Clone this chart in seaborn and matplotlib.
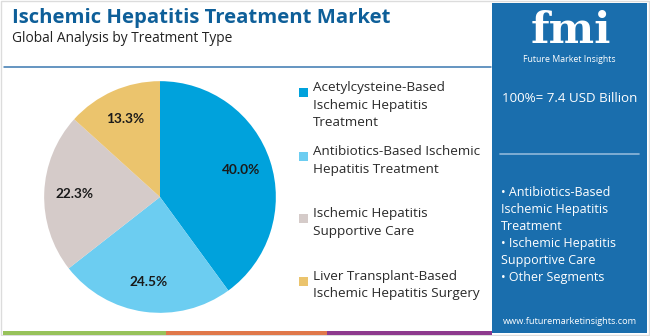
import matplotlib
matplotlib.use("Agg")
import matplotlib.pyplot as plt
import seaborn as sns
from matplotlib.patches import Rectangle
from matplotlib.lines import Line2D

# Market share by treatment type (value 100% = 7.4 USD Billion)
segments = [
    "Acetylcysteine-Based\nIschemic Hepatitis\nTreatment",
    "Antibiotics-Based Ischemic\nHepatitis Treatment",
    "Ischemic Hepatitis\nSupportive Care",
    "Liver Transplant-Based\nIschemic Hepatitis Surgery",
]
shares = [40.0, 24.5, 22.3, 13.3]
colors = ["#00a2dc", "#6ccdf1", "#d5cbc9", "#ebc46d"]

title = "Ischemic Hepatitis Treatment Market"
subtitle = "Global Analysis by Treatment Type"
total_text = "100%= 7.4 USD Billion"
key_segments = [
    "• Antibiotics-Based\nIschemic Hepatitis\nTreatment",
    "• Ischemic Hepatitis\nSupportive Care",
    "• Other Segments",
]
site = "www.futuremarketinsights.com"

sns.set_theme(style="white")
plt.rcParams["font.family"] = ["Open Sans", "DejaVu Sans"]

W, H = 650, 336
fig = plt.figure(figsize=(W / 100, H / 100), dpi=100)
fig.patch.set_facecolor("white")


def fx(x):
    return x / W


def fy(y):
    return 1 - y / H


def rect(x0, y0, x1, y1, color, **kw):
    fig.patches.append(Rectangle((fx(x0), fy(y1)), fx(x1 - x0), (y1 - y0) / H,
                                 transform=fig.transFigure, facecolor=color,
                                 edgecolor="none", **kw))


def hline(x0, x1, y, color, lw):
    fig.lines.append(Line2D([fx(x0), fx(x1)], [fy(y), fy(y)],
                            transform=fig.transFigure, color=color, lw=lw))


# outer frame
fig.patches.append(Rectangle((0.001, 0.002), 0.997, 0.995, transform=fig.transFigure,
                             facecolor="none", edgecolor="#dcdcdc", lw=1.0))

# headings
fig.text(fx(12), fy(18), title, fontsize=14.6, fontweight="bold", color="#0e5f99",
         family=["Open Sans", "DejaVu Sans"], va="center", ha="left")
fig.text(fx(12), fy(39), subtitle, fontsize=9.9, color="#222222", va="center", ha="left")
hline(4, 491, 67, "#3a78b0", 1.1)

# bottom colour band
rect(3, 331, 166, 335, "#97c25a")
rect(166, 331, 327, 335, "#e0784a")
rect(327, 331, 492, 335, "#8e3a8e")

# pie
ax = fig.add_axes([fx(43), fy(314), fx(234), 234 / H])
wedges, texts, autotexts = ax.pie(
    shares, colors=colors, startangle=90, counterclock=False,
    autopct="%.1f%%", pctdistance=0.74, radius=1.0,
    wedgeprops=dict(linewidth=0),
    textprops=dict(fontsize=9.8, fontweight="bold", color="#1a1a1a",
                   family=["Lato", "DejaVu Sans"]),
)
ax.set_xlim(-1.01, 1.01)
ax.set_ylim(-1.01, 1.01)
ax.set_aspect("equal")
ax.axis("off")

# legend
legend_rows = [81, 145, 207, 270]
for seg, col, y in zip(segments, colors, legend_rows):
    rect(299, y + 7, 308, y + 16, col)
    fig.text(fx(313), fy(y), seg, fontsize=9.7, color="#2a2a2a", va="top", ha="left",
             linespacing=1.45)

# side panel
panel = "#1a6ead"
rect(492, 3, 647, 333, panel)

# logo
fig.text(fx(571), fy(31), "fmi", fontsize=31, fontweight="bold", color="white",
         family=["DejaVu Serif"], ha="center", va="center")
for yy in range(15, 52, 3):
    hline(515, 630, yy, panel, 0.6)
fig.text(fx(569), fy(59), "Future Market Insights", fontsize=6.3, color="white",
         ha="center", va="center")

fig.text(fx(502), fy(98), total_text, fontsize=9.6, color="white", ha="left", va="center")
hline(500, 639, 154, "#8fb8da", 1.2)
fig.text(fx(501), fy(186), "\n".join(key_segments), fontsize=9.0, color="white",
         ha="left", va="top", linespacing=1.4)
fig.text(fx(570), fy(321), site, fontsize=6.6, color="white", ha="center", va="center")

fig.savefig("out.png", dpi=100, facecolor="white")
